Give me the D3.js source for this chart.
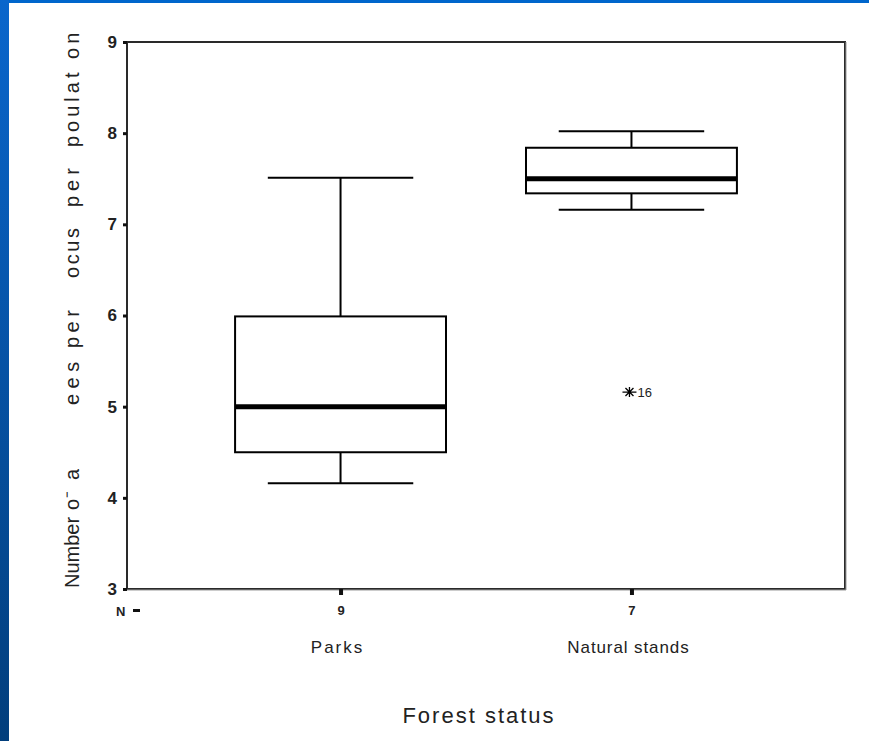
<!DOCTYPE html>
<html>
<head>
<meta charset="utf-8">
<script src="https://cdn.jsdelivr.net/npm/d3@7"></script>
<style>
  body { margin: 0; background: #fff; }
  svg { display: block; font-family: Arial, "Liberation Sans", sans-serif; }
</style>
</head>
<body>
<div id="chart"></div>
<script>
// Box plot values
const categories = ["Parks", "Natural stands"]
const counts = [9, 7]
const whiskerLow = [4.16, 7.16]
const q1 = [4.5, 7.34]
const medians = [5.0, 7.5]
const q3 = [5.99, 7.84]
const whiskerHigh = [7.51, 8.02]
// outliers: [category index, value, case label]
const outliers = [[1, 5.16, "16"]]
const yTicks = [3, 4, 5, 6, 7, 8, 9]

// y title as it shows in the picture (some glyphs are missing, leaving gaps)
const yTitleParts = ["Number", "o\u207B", "a", "ees", "per", "ocus", "per", "poulat on"]

const width = 869
const height = 741

const svg = d3.select("#chart")
  .append("svg")
  .attr("width", width)
  .attr("height", height)

// Slide background border (blue strips)
const defs = svg.append("defs")
const grad = defs.append("linearGradient")
  .attr("id", "sideGrad")
  .attr("x1", 0).attr("y1", 0).attr("x2", 0).attr("y2", 1)
grad.append("stop").attr("offset", "0%").attr("stop-color", "#0a66cc")
grad.append("stop").attr("offset", "100%").attr("stop-color", "#023e7c")

svg.append("rect").attr("x", 0).attr("y", 0).attr("width", width).attr("height", 3).attr("fill", "#0066cc")
svg.append("rect").attr("x", 0).attr("y", 0).attr("width", 9).attr("height", height).attr("fill", "url(#sideGrad)")

// Plot area
const plotLeft = 127, plotRight = 845, plotTop = 42, plotBottom = 589

const x = d3.scalePoint()
  .domain(categories)
  .range([plotLeft, plotRight])
  .padding(0.734)

const y = d3.scaleLinear()
  .domain([3, 9])
  .range([plotBottom, plotTop])

const step = x.step()
const boxW = step * 0.725
const capW = step * 0.5

// Frame
svg.append("rect")
  .attr("x", plotLeft).attr("y", plotTop)
  .attr("width", plotRight - plotLeft).attr("height", plotBottom - plotTop)
  .attr("fill", "none")
  .attr("stroke", "#2a2a2a")
  .attr("stroke-width", 2)
// slightly heavier right / bottom edge, like the original
svg.append("path")
  .attr("d", `M${plotRight + 1},${plotTop}V${plotBottom + 1}H${plotLeft}`)
  .attr("fill", "none")
  .attr("stroke", "#999")
  .attr("stroke-width", 1)

// Y axis
const yAxis = svg.append("g")
  .attr("transform", `translate(${plotLeft},0)`)
  .call(d3.axisLeft(y).tickValues(yTicks).tickSize(4).tickPadding(6).tickFormat(d3.format("d")))
yAxis.select(".domain").remove()
yAxis.selectAll(".tick line").attr("stroke", "#111").attr("stroke-width", 3)
yAxis.selectAll(".tick text")
  .attr("font-size", 17)
  .attr("fill", "#222")
  .attr("font-weight", "bold")

// X axis ticks with N counts
const xAxis = svg.append("g")
  .attr("transform", `translate(0,${plotBottom})`)
  .call(d3.axisBottom(x).tickSize(6).tickPadding(11).tickFormat((d, i) => counts[i]))
xAxis.select(".domain").remove()
xAxis.selectAll(".tick line").attr("stroke", "#111").attr("stroke-width", 4)
xAxis.selectAll(".tick text")
  .attr("font-size", 13)
  .attr("font-weight", "bold")
  .attr("fill", "#222")

// Category labels
svg.append("g").selectAll("text")
  .data(categories)
  .enter()
  .append("text")
  .attr("x", d => x(d) - 3)
  .attr("y", 653)
  .attr("text-anchor", "middle")
  .attr("font-size", 17)
  .attr("letter-spacing", (d, i) => i === 0 ? "2px" : "0.9px")
  .attr("fill", "#222")
  .text(d => d)

// "N =" marker
svg.append("text")
  .attr("x", 116).attr("y", 616)
  .attr("font-size", 13)
  .attr("font-weight", "bold")
  .attr("fill", "#222")
  .text("N")
svg.append("rect")
  .attr("x", 133).attr("y", 609).attr("width", 7).attr("height", 3)
  .attr("fill", "#111")

// Boxes
const boxes = svg.append("g").selectAll("g")
  .data(categories)
  .enter()
  .append("g")

// whisker stems
boxes.append("line")
  .attr("x1", d => x(d)).attr("x2", d => x(d))
  .attr("y1", (d, i) => y(whiskerHigh[i])).attr("y2", (d, i) => y(q3[i]))
  .attr("stroke", "#000").attr("stroke-width", 2)
boxes.append("line")
  .attr("x1", d => x(d)).attr("x2", d => x(d))
  .attr("y1", (d, i) => y(q1[i])).attr("y2", (d, i) => y(whiskerLow[i]))
  .attr("stroke", "#000").attr("stroke-width", 2)

// whisker caps
boxes.append("line")
  .attr("x1", d => x(d) - capW / 2).attr("x2", d => x(d) + capW / 2)
  .attr("y1", (d, i) => y(whiskerHigh[i])).attr("y2", (d, i) => y(whiskerHigh[i]))
  .attr("stroke", "#000").attr("stroke-width", 2)
boxes.append("line")
  .attr("x1", d => x(d) - capW / 2).attr("x2", d => x(d) + capW / 2)
  .attr("y1", (d, i) => y(whiskerLow[i])).attr("y2", (d, i) => y(whiskerLow[i]))
  .attr("stroke", "#000").attr("stroke-width", 2)

// box
boxes.append("rect")
  .attr("x", d => x(d) - boxW / 2)
  .attr("width", boxW)
  .attr("y", (d, i) => y(q3[i]))
  .attr("height", (d, i) => y(q1[i]) - y(q3[i]))
  .attr("fill", "#fff")
  .attr("stroke", "#000")
  .attr("stroke-width", 2)

// median
boxes.append("line")
  .attr("x1", d => x(d) - boxW / 2).attr("x2", d => x(d) + boxW / 2)
  .attr("y1", (d, i) => y(medians[i])).attr("y2", (d, i) => y(medians[i]))
  .attr("stroke", "#000").attr("stroke-width", 5)

// Outliers (drawn as asterisk) with case labels
const out = svg.append("g").selectAll("g")
  .data(outliers)
  .enter()
  .append("g")
  .attr("transform", d => `translate(${x(categories[d[0]]) - 2},${y(d[1])})`)
out.append("path")
  .attr("d", "M-7,0H7M0,-5V5M-4,-4L4,4M-4,4L4,-4")
  .attr("stroke", "#000")
  .attr("stroke-width", 1.3)
out.append("text")
  .attr("x", 8).attr("y", 5)
  .attr("font-size", 13)
  .attr("fill", "#222")
  .text(d => d[2])

// Y axis title, word by word along the axis (gaps where glyphs dropped out)
const partOffsets = [0, 78, 108, 183, 240, 310, 381, 441]
const partSpacing = [0, 1, 0, 5.5, 4.5, 2.6, 5, 4]
const yTitle = svg.append("text")
  .attr("transform", `translate(79,${plotBottom - 1}) rotate(-90)`)
  .attr("font-size", 20)
  .attr("fill", "#222")
yTitle.selectAll("tspan")
  .data(yTitleParts)
  .enter()
  .append("tspan")
  .attr("x", (d, i) => partOffsets[i])
  .attr("y", 0)
  .style("letter-spacing", (d, i) => partSpacing[i] + "px")
  .text(d => d)

svg.append("text")
  .attr("x", 479).attr("y", 723)
  .attr("text-anchor", "middle")
  .attr("font-size", 22)
  .attr("letter-spacing", "2px")
  .attr("fill", "#222")
  .text("Forest status")
</script>
</body>
</html>
